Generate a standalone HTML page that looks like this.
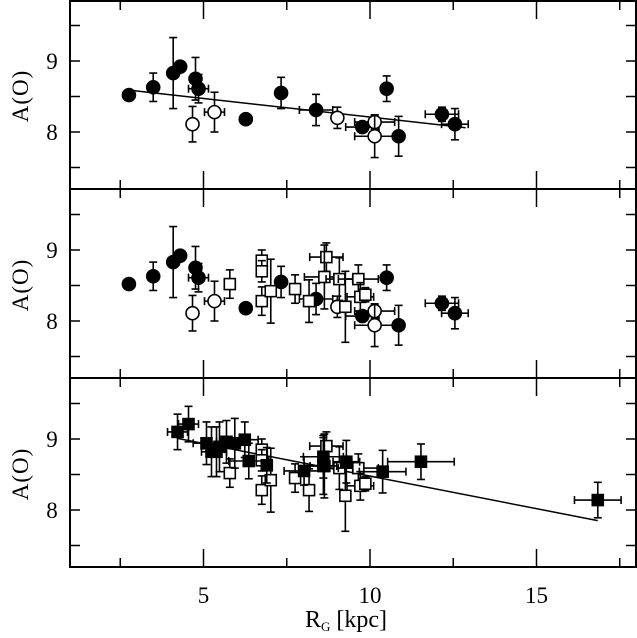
<!DOCTYPE html>
<html><head><meta charset="utf-8"><style>
html,body{margin:0;padding:0;background:#fff;}
svg{display:block;font-family:"Liberation Serif",serif;}
</style></head><body>
<svg id="chart" width="637" height="638" viewBox="0 0 637 638"></svg>
<script>
const topFilledX=[2.76,3.49,4.09,4.30,4.76,4.85,6.27,7.33,8.38,9.77,10.50,10.86,12.16,12.55];
const topFilledY=[8.52,8.63,8.83,8.92,8.75,8.61,8.18,8.55,8.31,8.07,8.61,7.94,8.25,8.11];
const topFilledEx=[0,0,0.15,0.1,0,0.3,0,0,0.5,0.5,0,0,0.5,0.4];
const topFilledEy=[0,0.2,0.5,0.05,0.3,0.2,0.05,0.22,0.22,0.05,0.18,0.28,0.1,0.22];
const openCircX=[4.67,5.33,9.02,10.14,10.14];
const openCircY=[8.11,8.28,8.20,8.14,7.94];
const openCircEx=[0,0.3,0,0.6,0.6];
const openCircEy=[0.25,0.28,0.15,0.1,0.3];
const openSqX=[5.79,6.75,6.75,6.75,7.02,7.75,8.17,8.69,8.63,9.08,9.65,9.26,9.71,9.86];
const openSqY=[8.52,8.85,8.70,8.28,8.42,8.45,8.28,8.90,8.62,8.59,8.59,8.20,8.34,8.37];
const openSqEx=[0,0,0,0,0,0,0,0.5,0.6,0.4,0.6,0,0.4,0];
const openSqEy=[0.2,0.15,0.15,0.2,0.45,0.2,0.3,0.2,0.45,0.3,0.2,0.5,0.2,0.1];
const filledSqX=[4.22,4.55,5.09,5.24,5.39,5.48,5.69,5.94,6.24,6.36,6.90,8.02,8.60,8.60,9.29,10.38,11.53,16.84];
const filledSqY=[9.10,9.21,8.94,8.82,8.82,8.89,8.96,8.94,8.99,8.69,8.63,8.55,8.75,8.62,8.68,8.54,8.68,8.14];
const filledSqEx=[0.3,0.3,0.4,0.3,0.3,0.2,0.3,0.3,0.4,0.6,0,0.6,0.6,0.4,0.4,0.7,1.0,0.7];
const filledSqEy=[0.25,0.25,0.3,0.35,0.35,0.35,0.3,0.35,0.25,0.25,0.25,0.2,0.3,0.4,0.3,0.3,0.25,0.25];
const fitTop=[[2.76,8.59],[12.87,8.06]];
const fitBottom=[[4.2,9.01],[16.84,7.85]];
const xTicks=[2.5,5,7.5,10,12.5,15,17.5];
const xLabels=[5,10,15];
const yTicks=[7.5,8,8.5,9,9.5];
const yLabels=[8,9];

const svg=document.getElementById('chart');
const NS='http://www.w3.org/2000/svg';
const L=70,R=636,panelH=189;
function X(v){return 37+33.3*v;}
function Y(v,p){return 61+p*panelH-(v-9)*71;}
function el(t,a,parent){const e=document.createElementNS(NS,t);for(const k in a)e.setAttribute(k,a[k]);(parent||svg).appendChild(e);return e;}

for(let p=0;p<3;p++){
  const top=p*panelH+(p===0?1:0), bot=(p+1)*panelH;
  const g=el('g',{});
  
  
  const fr=el('rect',{x:L,y:top,width:R-L,height:bot-top,fill:'none',stroke:'#000','stroke-width':2},g);
  
  
  xTicks.forEach(t=>{
    const len=(t%5===0)?18:9;
    el('line',{x1:X(t),x2:X(t),y1:bot,y2:bot-len,stroke:'#000','stroke-width':1.5},g);
    el('line',{x1:X(t),x2:X(t),y1:top,y2:top+len,stroke:'#000','stroke-width':1.5},g);
  });
  yTicks.forEach(t=>{
    el('line',{x1:L,x2:L+10,y1:Y(t,p),y2:Y(t,p),stroke:'#000','stroke-width':1.5},g);
    el('line',{x1:R,x2:R-10,y1:Y(t,p),y2:Y(t,p),stroke:'#000','stroke-width':1.5},g);
  });
  yLabels.forEach(t=>{
    const tx=el('text',{x:52,y:Y(t,p)+8,'font-size':23,'text-anchor':'middle'},g);
    tx.textContent=t;
    
    
  });
  const yl=el('text',{x:0,y:0,'font-size':23,'text-anchor':'middle','letter-spacing':1,transform:`translate(28,${p*panelH+96}) rotate(-90)`},g);
  yl.textContent='A(O)';
  
  
}
xLabels.forEach(t=>{
  const tx=el('text',{x:X(t),y:603,'font-size':23,'text-anchor':'middle'});
  tx.textContent=t;
  
  
});
const xl=el('text',{x:346,y:627,'font-size':24,'text-anchor':'middle'});
xl.innerHTML='R<tspan font-size="13" dy="4">G</tspan><tspan dy="-4"> [kpc]</tspan>';



function errs(x,y,ex,ey,p){
  const cx=X(x),cy=Y(y,p),g=el('g',{stroke:'#000','stroke-width':1.6});
  if(ey>0){const y1=Y(y+ey,p),y2=Y(y-ey,p);
    el('line',{x1:cx,x2:cx,y1:y1,y2:y2},g);
    el('line',{x1:cx-4,x2:cx+4,y1:y1,y2:y1},g);
    el('line',{x1:cx-4,x2:cx+4,y1:y2,y2:y2},g);}
  if(ex>0){const x1=X(x-ex),x2=X(x+ex);
    el('line',{x1:x1,x2:x2,y1:cy,y2:cy},g);
    el('line',{x1:x1,x2:x1,y1:cy-4,y2:cy+4},g);
    el('line',{x1:x2,x2:x2,y1:cy-4,y2:cy+4},g);}
}
function series(xs,ys,exs,eys,p,shape,fill,name){
  xs.forEach((x,i)=>{
    errs(x,ys[i],exs[i],eys[i],p);
    let m;
    if(shape==='c') m=el('circle',{cx:X(x),cy:Y(ys[i],p),r:6.5,fill:fill,stroke:'#000','stroke-width':1.6});
    else m=el('rect',{x:X(x)-5.5,y:Y(ys[i],p)-5.5,width:11,height:11,fill:fill,stroke:'#000','stroke-width':1.6});
    
    
  });
}
function fit(f,p){
  const l=el('line',{x1:X(f[0][0]),y1:Y(f[0][1],p),x2:X(f[1][0]),y2:Y(f[1][1],p),stroke:'#000','stroke-width':1.5});
  
  
}
fit(fitTop,0);
series(topFilledX,topFilledY,topFilledEx,topFilledEy,0,'c','#000','filled-circle-point');
series(openCircX,openCircY,openCircEx,openCircEy,0,'c','#fff','open-circle-point');
series(topFilledX,topFilledY,topFilledEx,topFilledEy,1,'c','#000','filled-circle-point');
series(openCircX,openCircY,openCircEx,openCircEy,1,'c','#fff','open-circle-point');
series(openSqX,openSqY,openSqEx,openSqEy,1,'s','#fff','open-square-point');
fit(fitBottom,2);
series(openSqX,openSqY,openSqEx,openSqEy,2,'s','#fff','open-square-point');
series(filledSqX,filledSqY,filledSqEx,filledSqEy,2,'s','#000','filled-square-point');
</script>
</body></html>
